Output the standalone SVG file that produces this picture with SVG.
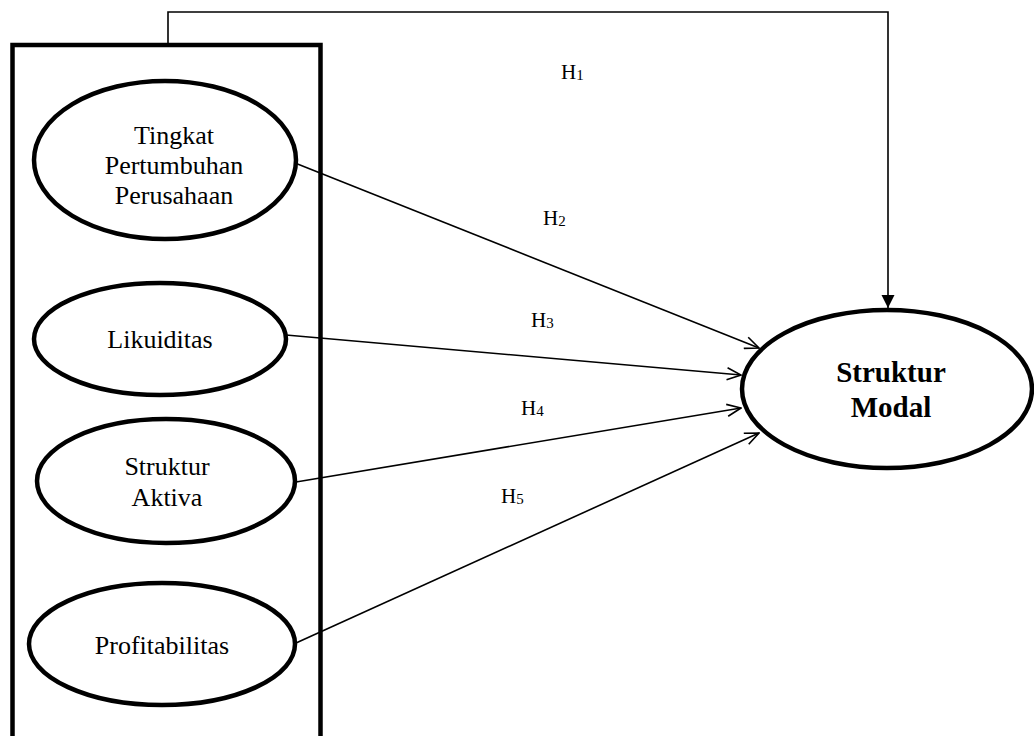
<svg xmlns="http://www.w3.org/2000/svg" width="1034" height="736" viewBox="0 0 1034 736">
<defs>
<style>
.node{fill:#fff;stroke:#000;stroke-width:4.5}
.lbl{font-family:"Liberation Serif","Times New Roman",serif;font-size:26px;fill:#000;text-anchor:middle}
.bold{font-weight:bold;font-size:29px}
.h{font-family:"Liberation Serif","Times New Roman",serif;font-size:21px;fill:#000}
.sub{font-size:15px}
.conn{fill:none;stroke:#000;stroke-width:1.6}
</style>
<marker id="open" viewBox="0 0 16 14" refX="15" refY="7" markerWidth="16" markerHeight="14" markerUnits="userSpaceOnUse" orient="auto">
<path d="M1,1 L15,7 L1,13" fill="none" stroke="#000" stroke-width="1.6"/>
</marker>
<marker id="solid" viewBox="0 0 14 14" refX="13" refY="7" markerWidth="14" markerHeight="14" markerUnits="userSpaceOnUse" orient="auto">
<path d="M0,0.5 L13,7 L0,13.5 Z" fill="#000"/>
</marker>
</defs>
<rect id="group-box" x="12.5" y="45" width="308" height="720" fill="none" stroke="#000" stroke-width="4.5"/>
<g id="connectors">
<path class="conn" d="M168,43 L168,12 L888,12 L888,308" marker-end="url(#solid)"/>
<line class="conn" x1="295" y1="163" x2="759" y2="348" marker-end="url(#open)"/>
<line class="conn" x1="286" y1="335" x2="741" y2="375" marker-end="url(#open)"/>
<line class="conn" x1="296" y1="482" x2="741" y2="408" marker-end="url(#open)"/>
<line class="conn" x1="296" y1="643" x2="759" y2="433" marker-end="url(#open)"/>
</g>
<g id="labels">
<text class="h" x="561" y="79">H<tspan class="sub" dy="1">1</tspan></text>
<text class="h" x="543" y="225">H<tspan class="sub" dy="1">2</tspan></text>
<text class="h" x="531" y="327">H<tspan class="sub" dy="1">3</tspan></text>
<text class="h" x="521" y="415">H<tspan class="sub" dy="1">4</tspan></text>
<text class="h" x="501" y="503">H<tspan class="sub" dy="1">5</tspan></text>
</g>
<g id="tingkat">
<ellipse class="node" cx="165" cy="160" rx="131" ry="79"/>
<text class="lbl" x="174" y="144">Tingkat</text>
<text class="lbl" x="174" y="174">Pertumbuhan</text>
<text class="lbl" x="174" y="204">Perusahaan</text>
</g>
<g id="likuiditas">
<ellipse class="node" cx="160" cy="339" rx="126" ry="56"/>
<text class="lbl" x="160" y="348">Likuiditas</text>
</g>
<g id="struktur-aktiva">
<ellipse class="node" cx="166" cy="481" rx="129" ry="62"/>
<text class="lbl" x="167" y="475">Struktur</text>
<text class="lbl" x="167" y="506">Aktiva</text>
</g>
<g id="profitabilitas">
<ellipse class="node" cx="162" cy="644" rx="133" ry="61"/>
<text class="lbl" x="162" y="654">Profitabilitas</text>
</g>
<g id="struktur-modal">
<ellipse class="node" cx="887" cy="389" rx="145" ry="79"/>
<text class="lbl bold" x="891" y="382">Struktur</text>
<text class="lbl bold" x="891" y="417">Modal</text>
</g>
</svg>
